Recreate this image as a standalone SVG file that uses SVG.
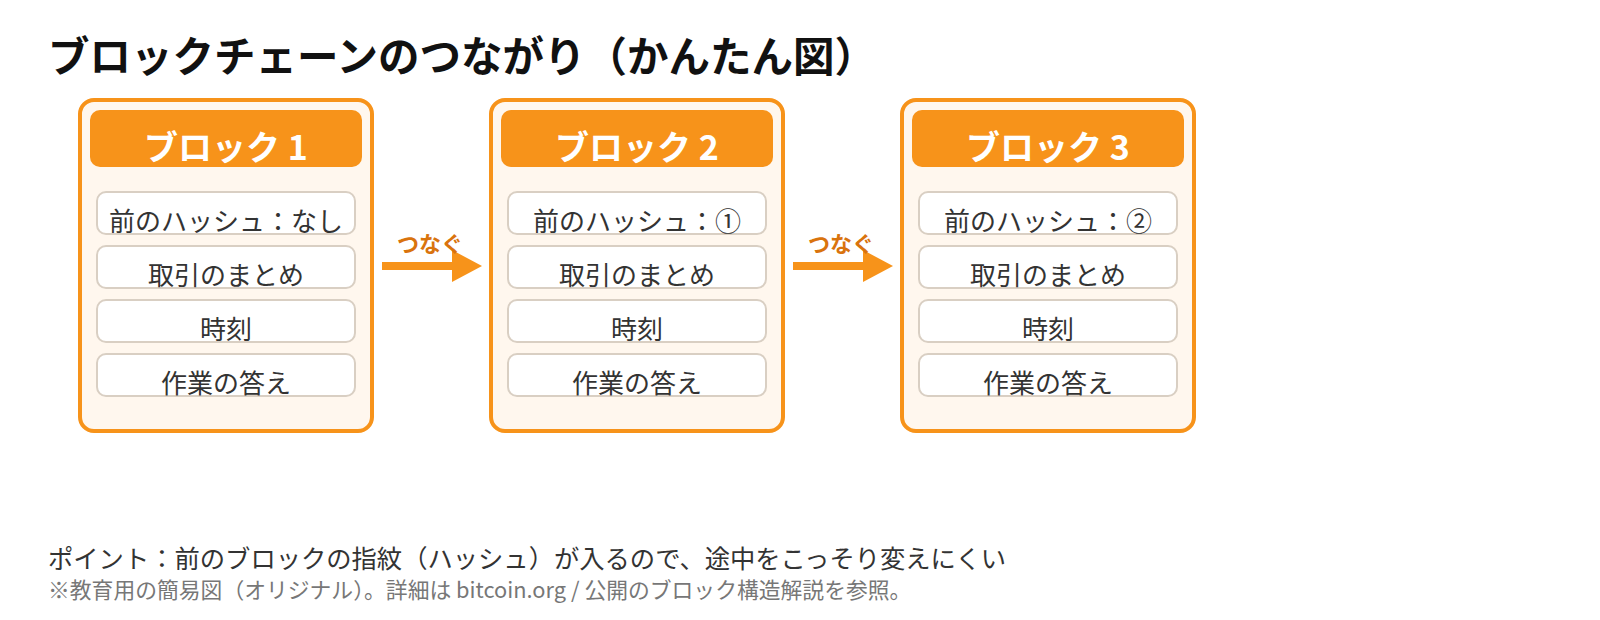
<svg xmlns="http://www.w3.org/2000/svg" width="1600" height="620" viewBox="0 0 1600 620">
<style>
text{font-family:"Noto Sans CJK JP","Noto Sans",sans-serif}
.outer{fill:#FFF7EE;stroke:#F7931A;stroke-width:4}
.head{fill:#F7931A}
.ht{fill:#fff;font-size:34px;font-weight:700;text-anchor:middle}
.item{fill:#fff;stroke:#D9CFC3;stroke-width:2}
.it{fill:#333;font-size:26px;text-anchor:middle}
.lbl{fill:#D9730D;font-size:22px;font-weight:700}
</style>
<defs>
<g id="items">
<rect class="item" x="17" y="92" width="258" height="42" rx="9"/>
<rect class="item" x="17" y="146" width="258" height="42" rx="9"/>
<rect class="item" x="17" y="200" width="258" height="42" rx="9"/>
<rect class="item" x="17" y="254" width="258" height="42" rx="9"/>
</g>
</defs>
<rect width="1600" height="620" fill="#fff"/>
<text x="48" y="72" font-size="41.5" font-weight="700" fill="#111">ブロックチェーンのつながり（かんたん図）</text>
<g id="block1" transform="translate(80,100)">
<rect class="outer" x="0" y="0" width="292" height="331" rx="14"/>
<rect class="head" x="10" y="10" width="272" height="57" rx="10"/>
<text class="ht" x="146" y="60">ブロック 1</text>
<use href="#items"/>
<text class="it" x="146" y="131">前のハッシュ：なし</text>
<text class="it" x="146" y="185">取引のまとめ</text>
<text class="it" x="146" y="239">時刻</text>
<text class="it" x="146" y="293">作業の答え</text>
</g>
<g id="block2" transform="translate(491,100)">
<rect class="outer" x="0" y="0" width="292" height="331" rx="14"/>
<rect class="head" x="10" y="10" width="272" height="57" rx="10"/>
<text class="ht" x="146" y="60">ブロック 2</text>
<use href="#items"/>
<text class="it" x="146" y="131">前のハッシュ：①</text>
<text class="it" x="146" y="185">取引のまとめ</text>
<text class="it" x="146" y="239">時刻</text>
<text class="it" x="146" y="293">作業の答え</text>
</g>
<g id="block3" transform="translate(902,100)">
<rect class="outer" x="0" y="0" width="292" height="331" rx="14"/>
<rect class="head" x="10" y="10" width="272" height="57" rx="10"/>
<text class="ht" x="146" y="60">ブロック 3</text>
<use href="#items"/>
<text class="it" x="146" y="131">前のハッシュ：②</text>
<text class="it" x="146" y="185">取引のまとめ</text>
<text class="it" x="146" y="239">時刻</text>
<text class="it" x="146" y="293">作業の答え</text>
</g>
<g id="connectors">
<rect x="382" y="262" width="72" height="8" fill="#F7931A"/>
<polygon points="452,250 482,266 452,282" fill="#F7931A"/>
<text class="lbl" x="397" y="252">つなぐ</text>
<rect x="793" y="262" width="72" height="8" fill="#F7931A"/>
<polygon points="863,250 893,266 863,282" fill="#F7931A"/>
<text class="lbl" x="808" y="252">つなぐ</text>
</g>
<text x="48" y="568" font-size="25.3" fill="#333">ポイント：前のブロックの指紋（ハッシュ）が入るので、途中をこっそり変えにくい</text>
<text x="48" y="598" font-size="21.8" fill="#777">※教育用の簡易図（オリジナル）。詳細は bitcoin.org / 公開のブロック構造解説を参照。</text>
</svg>
